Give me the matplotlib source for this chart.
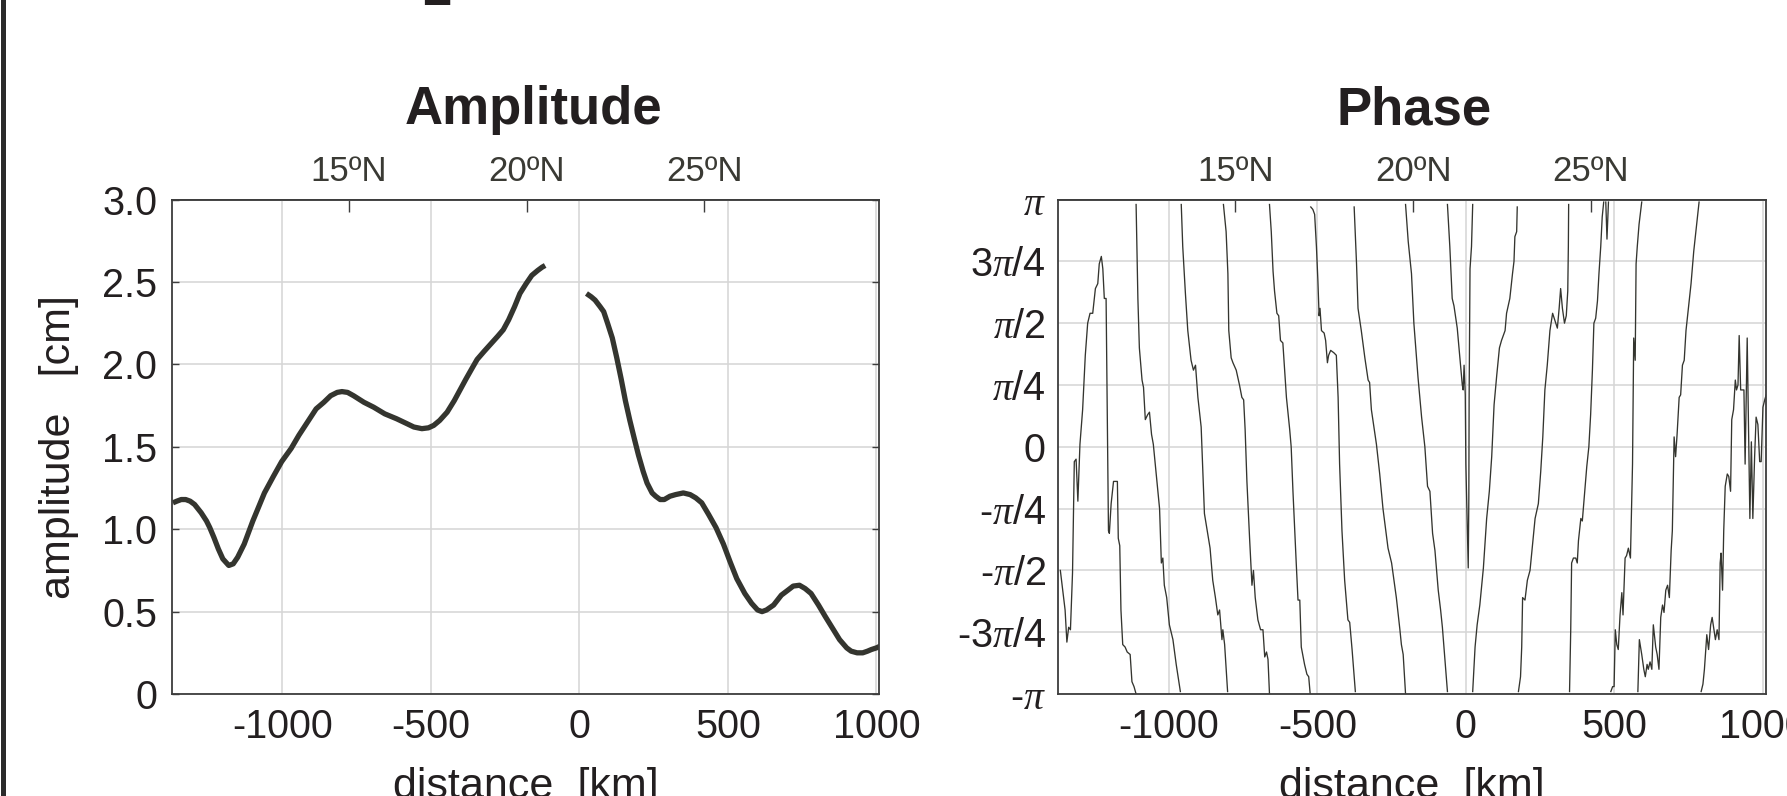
#! /usr/bin/env python3
"""
Amplitude and phase along the coast
"""

import numpy as np
import matplotlib
matplotlib.use("Agg")
import matplotlib.pyplot as plt
from matplotlib import rcParams as rc
from matplotlib.lines import Line2D

# amplitude [cm], south and north of the gap
amp_km_south = [-1368, -1355, -1340, -1325, -1310, -1295, -1273, -1255,
                -1244, -1230, -1215, -1200, -1180, -1165, -1150, -1128,
                -1099, -1060, -1030, -1002, -970, -944, -915, -886, -860,
                -837, -815, -799, -780, -760, -725, -692, -655, -615, -580,
                -557, -530, -508, -490, -470, -445, -421, -400, -382, -360,
                -344, -320, -295, -275, -256, -238, -218, -200, -179, -160,
                -140, -125, -115]
amp_cm_south = [1.16, 1.17, 1.18, 1.18, 1.17, 1.15, 1.10, 1.05, 1.01, 0.95,
                0.88, 0.82, 0.78, 0.79, 0.83, 0.91, 1.05, 1.22, 1.32, 1.41,
                1.49, 1.57, 1.65, 1.73, 1.77, 1.81, 1.83, 1.835, 1.83, 1.81,
                1.77, 1.74, 1.70, 1.67, 1.64, 1.62, 1.61, 1.615, 1.63, 1.66,
                1.71, 1.78, 1.85, 1.91, 1.98, 2.03, 2.08, 2.13, 2.17, 2.21,
                2.27, 2.35, 2.43, 2.49, 2.54, 2.57, 2.59, 2.60]
amp_km_north = [24, 40, 53, 70, 82, 95, 111, 126, 141, 155, 170, 185, 199,
                215, 228, 245, 257, 272, 286, 305, 324, 350, 373, 392, 412,
                435, 460, 485, 508, 530, 557, 580, 600, 615, 630, 654, 680,
                702, 720, 741, 760, 780, 805, 828, 852, 876, 900, 915, 935,
                954, 970, 983, 1000, 1012]
amp_cm_north = [2.43, 2.41, 2.39, 2.35, 2.32, 2.25, 2.16, 2.04, 1.91, 1.78,
                1.66, 1.55, 1.45, 1.35, 1.28, 1.22, 1.20, 1.18, 1.18, 1.20,
                1.21, 1.22, 1.21, 1.19, 1.16, 1.09, 1.01, 0.91, 0.80, 0.70,
                0.61, 0.55, 0.51, 0.50, 0.51, 0.54, 0.60, 0.63, 0.655, 0.66,
                0.64, 0.61, 0.54, 0.47, 0.40, 0.33, 0.28, 0.26, 0.25, 0.25,
                0.26, 0.27, 0.28, 0.29]

# phase in units of pi, None where the branch wraps
phase_km = [
    -1365, -1357, -1349, -1343, -1337, -1331, -1324, -1318, -1312, -1306,
    -1299, -1290, -1281, -1273, -1265, -1256, -1247, -1239, -1234, -1227,
    -1222, -1217, -1211, -1203, -1200, -1194, -1186, -1173, -1170, -1165,
    -1161, -1155, -1147, -1140, -1130, -1124, -1117, -1110, None,
    -1110, -1104, -1099, -1090, -1085, -1079, -1071, -1065, -1058, -1052,
    -1043, -1031, -1025, -1020, -1015, -1007, -998, -986, -975, -961, None,
    -958, -953, -944, -936, -925, -917, -910, -902, -891, -880, -872, -861,
    -852, -843, -835, -829, -821, -818, -812, -802, None,
    -816, -807, -801, -798, -790, -784, -773, -762, -754, -748, -743, -737,
    -728, -720, -715, -709, -700, -691, -683, -677, -671, -666, -661, None,
    -661, -655, -649, -644, -636, -630, -624, -616, -610, -604, -593, -588,
    -582, -576, -571, -565, -559, -554, -543, -535, -529, -524, None,
    -522, -515, -509, -503, -498, -494, -491, -486, -477, -472, -466, -462,
    -455, -444, -436, -430, -425, -417, -408, -397, -391, -383, -372, None,
    -376, -368, -363, -352, -340, -329, -324, -318, -301, -290, -279, -262,
    -250, -234, -222, -217, -211, -203, None,
    -203, -194, -183, -175, -161, -149, -138, -129, -121, -112, -104, -93,
    -85, -79, -71, -62, None,
    -62, -54, -46, -40, -29, -20, -12, -9, -6, -2, 0, 5, 8, 10, 11, 14, 19,
    23, None,
    23, 31, 38, 47, 59, 70, 79, 87, 95, 104, 113, 120, 132, 137, 148, 157,
    162, 165, 171, 173, None,
    177, 184, 188, 191, 199, 207, 216, 225, 233, 244, 252, 259, 266, 274,
    283, 292, 300, 308, 314, 319, 325, 332, 338, 343, 345, 346, None,
    349, 353, 356, 362, 370, 375, 379, 387, 392, 398, 407, 414, 420, 426,
    431, 437, 443, 448, 454, 459, 464, None,
    471, 475, 480, None,
    488, 494, 499, 503, 508, 513, 519, 525, 529, 536, 541, 547, 554, 561,
    565, 570, 573, 577, 583, 592, None,
    579, 584, 592, 599, 604, 610, 614, 620, 626, 631, 639, 644, 650, 656,
    662, 667, 673, 679, 685, 691, 695, 701, 706, 711, 718, 723, 729, 735,
    741, 749, 758, 767, 776, 785, None,
    792, 798, 803, 811, 817, 824, 829, 835, 840, 846, 852, 856, 859, 864,
    868, 873, 880, 885, 891, 895, 901, 907, 911, 916, 920, 925, 930, 936,
    940, 947, 952, 956, 961, 966, 972, 977, 983, 989, 994, 1000, 1006, 1011,
]
phase_pi = [
    -0.50, -0.58, -0.66, -0.79, -0.73, -0.74, -0.51, -0.06, -0.05, -0.22,
    0.01, 0.15, 0.37, 0.50, 0.54, 0.54, 0.64, 0.66, 0.74, 0.77,
    0.72, 0.60, 0.60, -0.34, -0.35, -0.23, -0.14, -0.14, -0.37, -0.40,
    -0.66, -0.80, -0.81, -0.83, -0.84, -0.95, -0.97, -1.00, None,
    0.98, 0.60, 0.40, 0.27, 0.24, 0.11, 0.13, 0.14, 0.05, 0.01,
    -0.10, -0.25, -0.47, -0.45, -0.56, -0.61, -0.72, -0.78, -0.88, -0.99, None,
    0.98, 0.81, 0.62, 0.47, 0.35, 0.31, 0.33, 0.20, 0.08, -0.27, -0.33, -0.41,
    -0.54, -0.61, -0.68, -0.66, -0.78, -0.74, -0.80, -0.99, None,
    0.98, 0.87, 0.70, 0.47, 0.36, 0.34, 0.31, 0.25, 0.20, 0.19, 0.07, -0.14,
    -0.37, -0.56, -0.50, -0.61, -0.70, -0.74, -0.74, -0.85, -0.83, -0.86,
    -1.00, None,
    0.98, 0.87, 0.71, 0.63, 0.54, 0.53, 0.43, 0.42, 0.31, 0.20, 0.07, 0.00,
    -0.18, -0.34, -0.47, -0.62, -0.62, -0.81, -0.88, -0.92, -0.93, -1.00,
    None,
    0.97, 0.96, 0.94, 0.81, 0.67, 0.53, 0.56, 0.47, 0.46, 0.43, 0.34, 0.37,
    0.39, 0.38, 0.37, 0.20, -0.07, -0.34, -0.54, -0.70, -0.71, -0.82, -0.99,
    None,
    0.97, 0.74, 0.56, 0.47, 0.36, 0.27, 0.26, 0.15, 0.01, -0.11, -0.25, -0.41,
    -0.47, -0.61, -0.74, -0.80, -0.84, -1.00, None,
    0.98, 0.83, 0.70, 0.50, 0.28, 0.12, 0.00, -0.16, -0.18, -0.35, -0.42,
    -0.58, -0.66, -0.73, -0.85, -0.99, None,
    0.98, 0.81, 0.60, 0.57, 0.48, 0.36, 0.25, 0.23, 0.33, 0.21, -0.07, -0.34,
    -0.49, -0.21, 0.20, 0.72, 0.81, 0.98, None,
    -0.99, -0.81, -0.72, -0.64, -0.49, -0.29, -0.18, -0.04, 0.17, 0.29, 0.40,
    0.43, 0.47, 0.54, 0.60, 0.70, 0.75, 0.85, 0.87, 0.97, None,
    -0.99, -0.93, -0.81, -0.61, -0.62, -0.54, -0.50, -0.39, -0.29, -0.23,
    -0.10, 0.04, 0.23, 0.33, 0.47, 0.54, 0.51, 0.48, 0.56, 0.64, 0.56, 0.50,
    0.53, 0.63, 0.81, 0.98, None,
    -0.99, -0.74, -0.47, -0.45, -0.45, -0.47, -0.38, -0.29, -0.30, -0.21,
    -0.08, 0.00, 0.13, 0.31, 0.50, 0.52, 0.59, 0.70, 0.81, 0.93, 0.99, None,
    0.99, 0.84, 0.99, None,
    -0.99, -0.97, -0.97, -0.74, -0.80, -0.82, -0.68, -0.59, -0.68, -0.45,
    -0.44, -0.41, -0.45, -0.07, 0.44, 0.35, 0.74, 0.81, 0.90, 0.99, None,
    -0.99, -0.78, -0.84, -0.90, -0.93, -0.88, -0.90, -0.87, -0.90, -0.72,
    -0.81, -0.84, -0.90, -0.69, -0.64, -0.67, -0.58, -0.56, -0.61, -0.42,
    -0.34, 0.04, -0.04, 0.05, 0.20, 0.21, 0.33, 0.35, 0.47, 0.56, 0.66, 0.79,
    0.89, 0.99, None,
    -0.99, -0.96, -0.90, -0.76, -0.82, -0.72, -0.69, -0.74, -0.78, -0.74,
    -0.78, -0.47, -0.43, -0.58, -0.34, -0.16, -0.11, -0.12, -0.18, 0.11,
    0.15, 0.27, 0.23, 0.25, 0.45, 0.23, 0.23, 0.23, -0.07, 0.44, 0.02, -0.29,
    0.02, -0.29, -0.04, 0.12, 0.09, -0.06, -0.06, 0.16, 0.19, 0.21,
]

x_ticks = [-1000, -500, 0, 500, 1000]
lat_km = [-776, -177, 421]
lat_labels = ["15ºN", "20ºN", "25ºN"]
amp_ticks = [0, 0.5, 1.0, 1.5, 2.0, 2.5, 3.0]
amp_tick_labels = ["0", "0.5", "1.0", "1.5", "2.0", "2.5", "3.0"]
phase_ticks_pi = [-1, -0.75, -0.5, -0.25, 0, 0.25, 0.5, 0.75, 1]
phase_tick_labels = ["-$\\pi$", "-3$\\pi$/4", "-$\\pi$/2", "-$\\pi$/4", "0",
                     "$\\pi$/4", "$\\pi$/2", "3$\\pi$/4", "$\\pi$"]


def style_axes(ax, colour_spine, colour_grid, colour_text, colour_lat):
    ax.set_xlim(-1372, 1010)
    ax.set_xticks(x_ticks)
    ax.set_xticklabels([str(t) for t in x_ticks])
    ax.grid(True, color=colour_grid, linewidth=1.1)
    ax.set_axisbelow(True)
    for spine in ax.spines.values():
        spine.set_color(colour_spine)
        spine.set_linewidth(1.3)
    ax.tick_params(axis="x", length=0, pad=10, labelsize=28.5,
                   labelcolor=colour_text)
    sec = ax.secondary_xaxis("top")
    sec.set_xticks(lat_km, labels=lat_labels)
    sec.tick_params(direction="in", length=8.5, width=1.0,
                    color=colour_spine, pad=8, labelsize=25,
                    labelcolor=colour_lat)
    sec.spines["top"].set_color(colour_spine)
    sec.spines["top"].set_linewidth(1.3)


def main():
    colour_line = "#34352f"
    colour_text = "#231f20"
    colour_lat = "#3a3a34"
    colour_grid = "#d5d5d5"
    colour_spine = "#3d3d3d"
    rc["font.family"] = ["Liberation Sans", "DejaVu Sans"]
    rc["mathtext.fontset"] = "custom"
    rc["mathtext.rm"] = "Liberation Sans"
    rc["mathtext.it"] = "Liberation Serif:italic"
    rc["axes.unicode_minus"] = False
    rc["text.color"] = colour_text

    fig = plt.figure(figsize=(17.87, 7.96), dpi=100)
    ax_amp = fig.add_axes([0.0961, 0.1281, 0.3960, 0.6212])
    ax_pha = fig.add_axes([0.5922, 0.1281, 0.3960, 0.6212])

    # amplitude panel
    style_axes(ax_amp, colour_spine, colour_grid, colour_text, colour_lat)
    for km, cm in ((amp_km_south, amp_cm_south), (amp_km_north, amp_cm_north)):
        ax_amp.plot(km, cm, color=colour_line, linewidth=3.8,
                    solid_joinstyle="round", solid_capstyle="butt")
    ax_amp.set_ylim(0, 3)
    ax_amp.set_yticks(amp_ticks)
    ax_amp.set_yticklabels(amp_tick_labels)
    ax_amp.tick_params(axis="y", direction="in", length=5, width=1.0,
                       left=True, right=True, pad=10.5, labelsize=28.5,
                       color=colour_spine, labelcolor=colour_text)

    # phase panel
    style_axes(ax_pha, colour_spine, colour_grid, colour_text, colour_lat)
    km = np.array(phase_km, dtype=float)
    ph = np.array(phase_pi, dtype=float) * np.pi
    ax_pha.plot(km, ph, color=colour_line, linewidth=0.95)
    ax_pha.set_ylim(-np.pi, np.pi)
    ax_pha.set_yticks(np.array(phase_ticks_pi) * np.pi)
    ax_pha.set_yticklabels(phase_tick_labels)
    ax_pha.tick_params(axis="y", length=0, pad=9, labelsize=28.5,
                       labelcolor=colour_text)

    # titles and labels
    fig.text(0.2983, 0.8442, "Amplitude", ha="center", va="baseline",
             fontsize=38, fontweight="bold")
    fig.text(0.7913, 0.8442, "Phase", ha="center", va="baseline",
             fontsize=38, fontweight="bold")
    fig.text(0.2941, -0.002, "distance  [km]", ha="center", va="baseline",
             fontsize=31)
    fig.text(0.7902, -0.002, "distance  [km]", ha="center", va="baseline",
             fontsize=31)
    fig.text(0.033, 0.4384, "amplitude   [cm]", rotation=90, ha="center",
             va="center", fontsize=31)

    # frame edge and panel letter cut off by the crop
    fig.add_artist(Line2D([0.0017, 0.0017], [0, 1], transform=fig.transFigure,
                          color="#2b2b2b", linewidth=3.6))
    fig.text(0.2445, 0.9937, "2", ha="center", va="baseline", fontsize=38,
             fontweight="bold")

    fig.savefig("out.png", dpi=100)


if __name__ == "__main__":
    main()
